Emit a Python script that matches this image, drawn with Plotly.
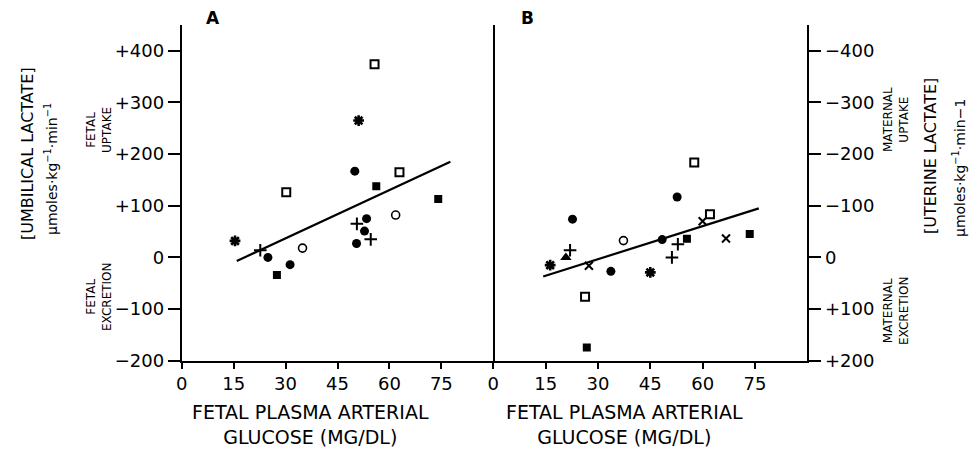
import plotly.graph_objects as go

# ---------------- data ----------------
# Panel A: umbilical lactate (umol/kg/min) vs fetal plasma arterial glucose (mg/dl)
a_fcirc_x = [50.0, 53.4, 52.8, 50.5, 24.9, 31.3]
a_fcirc_y = [167, 75, 51, 27, 0, -14]
a_ocirc_x = [61.8, 34.9]
a_ocirc_y = [82, 18]
a_fsq_x = [56.2, 74.1, 27.5]
a_fsq_y = [138, 113, -34]
a_osq_x = [55.7, 62.9, 30.2]
a_osq_y = [374, 165, 126]
a_ast_x = [51.1, 15.4]
a_ast_y = [265, 32]
a_plus_x = [50.6, 54.6, 22.7]
a_plus_y = [65, 35, 14]
a_fit_x = [15.9, 77.6]
a_fit_y = [-7, 185]

# Panel B: uterine lactate (negative = maternal uptake)
b_fcirc_x = [52.7, 22.7, 48.4, 33.7]
b_fcirc_y = [-117, -74, -34.5, 27]
b_ocirc_x = [37.3]
b_ocirc_y = [-32.5]
b_fsq_x = [55.5, 73.5, 26.8]
b_fsq_y = [-36, -45.5, 174.5]
b_osq_x = [57.6, 62.1, 26.3]
b_osq_y = [-184, -83.5, 76]
b_x_x = [60.0, 66.7, 27.4]
b_x_y = [-70, -36.5, 16]
b_plus_x = [52.9, 51.2, 22.0]
b_plus_y = [-25.5, 0, -14]
b_tri_x = [20.8]
b_tri_y = [0]
b_ast_x = [16.3, 45.0]
b_ast_y = [15, 29]
b_fit_x = [14.3, 76.1]
b_fit_y = [37, -95]

x_ticks = [0, 15, 30, 45, 60, 75]
a_y_ticks = [400, 300, 200, 100, 0, -100, -200]
a_y_text = ["+400", "+300", "+200", "+100", "0", "\u2212100", "\u2212200"]
b_y_ticks = [-400, -300, -200, -100, 0, 100, 200]
b_y_text = ["\u2212400", "\u2212300", "\u2212200", "\u2212100", "0", "+100", "+200"]

# ---------------- figure ----------------
FONT = "DejaVu Sans, Liberation Sans, sans-serif"
K = "black"
fig = go.Figure()

def add(x, y, sym, size, lw, xa, ya, fill=True):
    fig.add_trace(go.Scatter(
        x=x, y=y, mode="markers", xaxis=xa, yaxis=ya, showlegend=False,
        marker=dict(symbol=sym, size=size, color=K if fill else "white",
                    line=dict(color=K, width=lw))))

# Panel A
fig.add_trace(go.Scatter(x=a_fit_x, y=a_fit_y, mode="lines", xaxis="x", yaxis="y",
                         line=dict(color=K, width=2.2), showlegend=False))
add(a_fcirc_x, a_fcirc_y, "circle", 9, 0, "x", "y")
add(a_ocirc_x, a_ocirc_y, "circle", 8, 1.6, "x", "y", fill=False)
add(a_fsq_x, a_fsq_y, "square", 8, 0, "x", "y")
add(a_osq_x, a_osq_y, "square", 8, 2, "x", "y", fill=False)
add(a_ast_x, a_ast_y, "asterisk-open", 9, 2.6, "x", "y")
add(a_plus_x, a_plus_y, "cross-thin-open", 9, 2, "x", "y")

# Panel B
fig.add_trace(go.Scatter(x=b_fit_x, y=b_fit_y, mode="lines", xaxis="x2", yaxis="y2",
                         line=dict(color=K, width=2.2), showlegend=False))
add(b_fcirc_x, b_fcirc_y, "circle", 9, 0, "x2", "y2")
add(b_ocirc_x, b_ocirc_y, "circle", 8, 1.6, "x2", "y2", fill=False)
add(b_fsq_x, b_fsq_y, "square", 8, 0, "x2", "y2")
add(b_osq_x, b_osq_y, "square", 8, 2, "x2", "y2", fill=False)
add(b_x_x, b_x_y, "x-thin-open", 8, 2, "x2", "y2")
add(b_plus_x, b_plus_y, "cross-thin-open", 9, 2, "x2", "y2")
add(b_tri_x, b_tri_y, "triangle-up", 10, 0, "x2", "y2")
add(b_ast_x, b_ast_y, "asterisk-open", 9, 2.6, "x2", "y2")

W, H = 974, 450
def px(x):
    return x / W
def py(y):
    return 1 - y / H

ydom = [py(360.7), py(25)]
base = dict(showline=True, linecolor=K, linewidth=2, ticks="outside",
            tickwidth=2, tickcolor=K, showgrid=False, zeroline=False,
            automargin=False, tickfont=dict(family=FONT, size=18, color=K))
xax = dict(base, ticklen=6)
yax = dict(base, ticklen=12)

fig.update_layout(
    template="none",
    width=W, height=H, margin=dict(l=0, r=0, t=0, b=0, pad=0), autosize=False,
    paper_bgcolor="white", plot_bgcolor="white",
    xaxis=dict(domain=[px(181.7), px(493.3)], range=[0, 90], tickvals=x_ticks,
               anchor="y", **xax),
    yaxis=dict(domain=ydom, range=[-200, 450], tickvals=a_y_ticks, ticktext=a_y_text,
               anchor="x", mirror=True, **yax),
    xaxis2=dict(domain=[px(493.3), px(807.3)], range=[0, 90], tickvals=x_ticks,
                anchor="y2", **xax),
    yaxis2=dict(domain=ydom, range=[200, -450], tickvals=b_y_ticks, ticktext=b_y_text,
                anchor="x2", side="right", mirror=False, **yax),
)

def ann(text, x, y, size, angle=0, bold=False):
    fig.add_annotation(text=("<b>%s</b>" % text) if bold else text,
                       x=px(x), y=py(y), xref="paper", yref="paper",
                       showarrow=False, textangle=angle, xanchor="center", yanchor="middle",
                       font=dict(family=FONT, size=size, color=K))

ann("A", 213, 18, 17, bold=True)
ann("B", 527, 18, 17, bold=True)

ann("FETAL PLASMA ARTERIAL<br>GLUCOSE (MG/DL)", 310, 424, 19)
ann("FETAL PLASMA ARTERIAL<br>GLUCOSE (MG/DL)", 624, 424, 19)

ann("[UMBILICAL LACTATE]", 27, 154, 16, angle=-90)
ann("\u03bcmoles\u00b7kg<sup>\u22121</sup>\u00b7min<sup>\u22121</sup>", 51, 169, 14, angle=-90)
ann("FETAL<br>UPTAKE", 99, 130, 12, angle=-90)
ann("FETAL<br>EXCRETION", 99, 297, 12, angle=-90)

ann("MATERNAL<br>UPTAKE", 896, 120, 12, angle=-90)
ann("MATERNAL<br>EXCRETION", 896, 311, 12, angle=-90)
ann("[UTERINE LACTATE]", 930, 156, 16, angle=-90)
ann("\u03bcmoles\u00b7kg<sup>\u22121</sup>\u00b7min\u22121", 959, 168, 14, angle=-90)

fig.write_html("out.html", config={"displayModeBar": False},
               post_script="document.body.style.margin='0px';document.body.style.overflow='hidden';")
